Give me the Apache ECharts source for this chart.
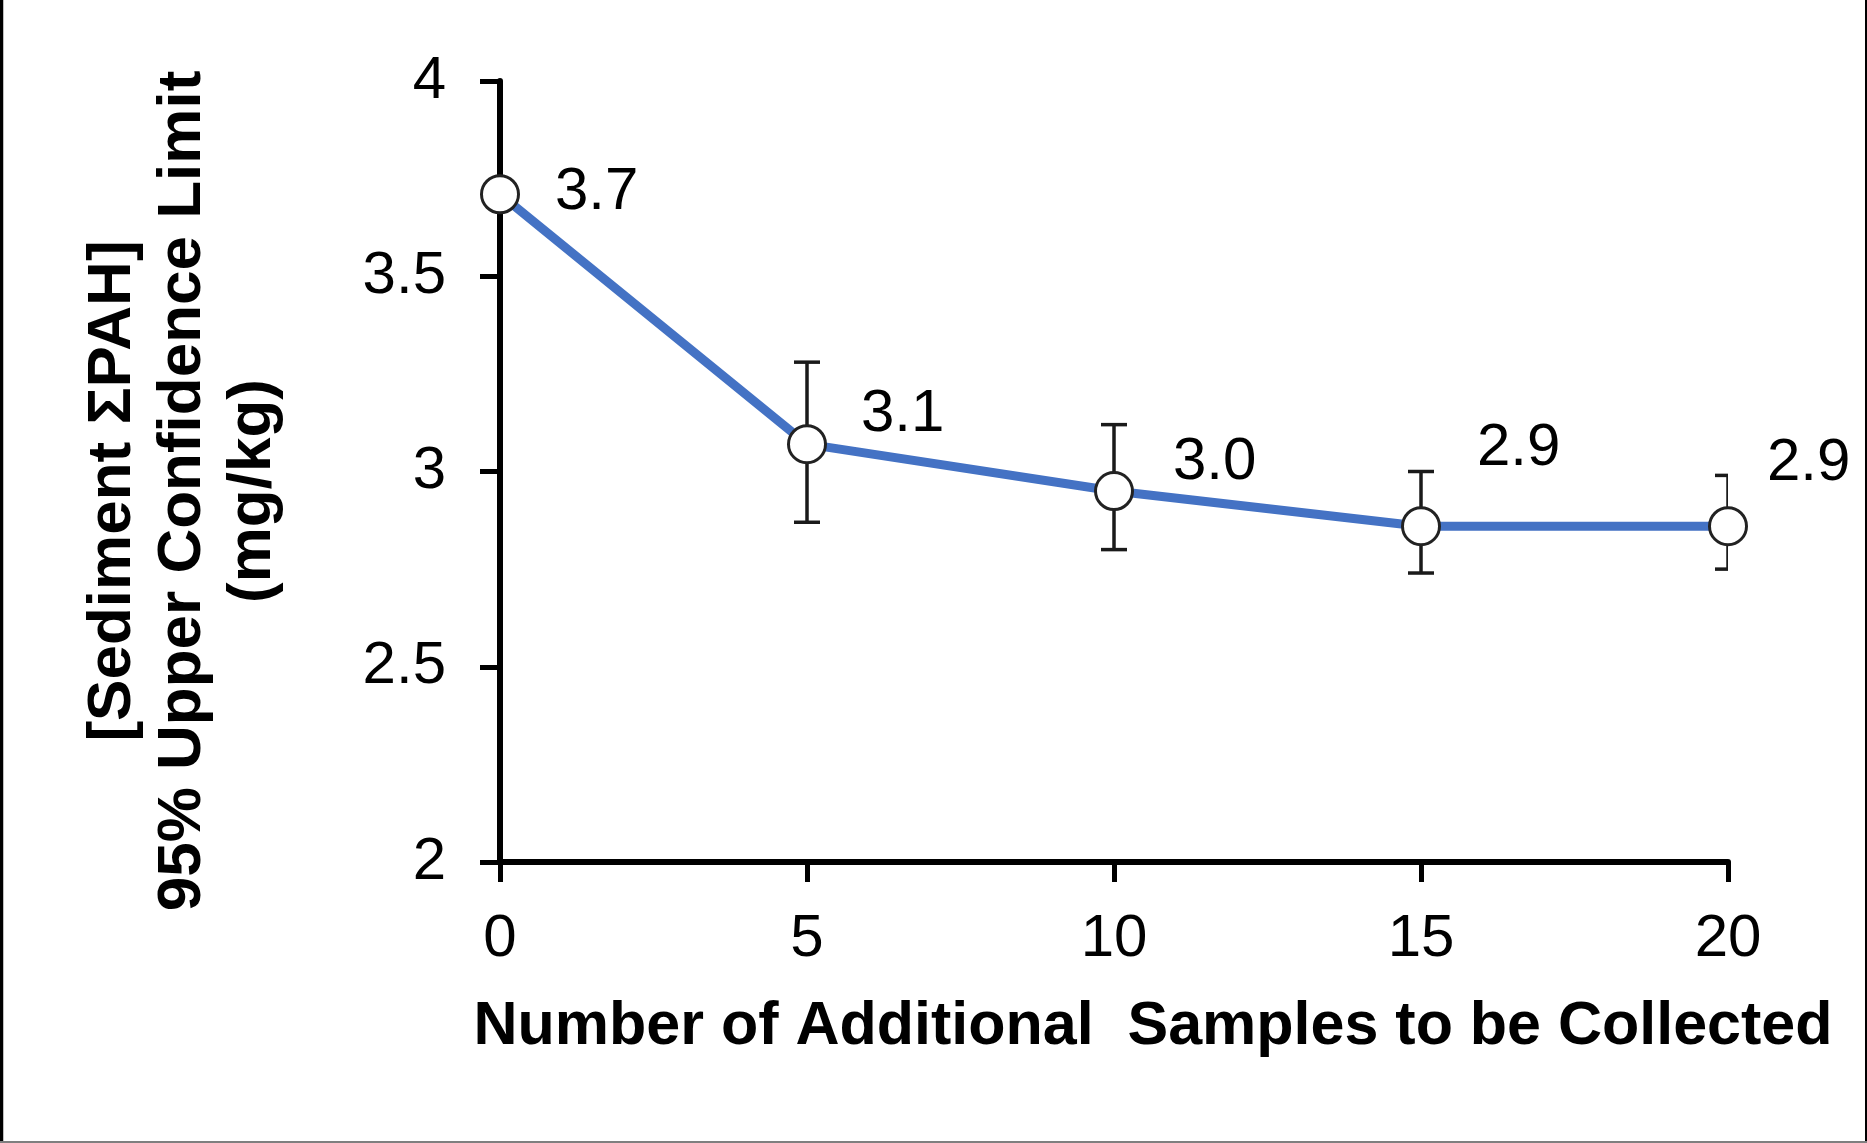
<!DOCTYPE html>
<html><head><meta charset="utf-8">
<script src="https://cdn.jsdelivr.net/npm/echarts@6/dist/echarts.min.js"></script>
<style>html,body{margin:0;padding:0;background:#fff}#c{width:1867px;height:1143px}</style>
</head><body><div id="c"></div>
<script>
// ---- data ----
const samples = [0, 5, 10, 15, 20];
const uclValues = [3.71, 3.07, 2.95, 2.86, 2.86];
const errLow = [null, 2.87, 2.80, 2.74, 2.75];
const errHigh = [null, 3.28, 3.12, 3.00, 2.99];
const xTickLabels = ['0', '5', '10', '15', '20'];
const yTickLabels = ['2', '2.5', '3', '3.5', '4'];
const xTitle = 'Number of Additional  Samples to be Collected';
const yTitleLines = ['[Sediment \u03A3PAH]', '95% Upper Confidence Limit', '(mg/kg)'];

// ---- styling (label offsets per point, in px) ----
const labelOffsets = [[35, -2], [34, -30], [39, -29], [36, -78], [19, -63]];

const FONT = "'Liberation Sans', Arial, sans-serif";
const chart = echarts.init(document.getElementById('c'), null, {renderer: 'canvas'});

const lineData = samples.map((x, i) => ({
  value: [x, uclValues[i]],
  label: {offset: labelOffsets[i]}
}));
const errData = [];
samples.forEach((x, i) => {
  if (errLow[i] != null && errHigh[i] != null) errData.push([x, errLow[i], errHigh[i]]);
});

const axisCommon = {
  axisLine: {show: true, lineStyle: {color: '#000', width: 6}},
  axisTick: {show: true, inside: false, length: 20, lineStyle: {color: '#000', width: 5}},
  splitLine: {show: false},
};

chart.setOption({
  animation: false,
  backgroundColor: '#fff',
  grid: {left: 500, right: 139, top: 81, bottom: 281, containLabel: false},
  xAxis: Object.assign({
    type: 'value', min: 0, max: 20, interval: 5,
    axisLabel: {fontSize: 60, color: '#000', fontFamily: FONT, margin: 47,
      formatter: (v) => xTickLabels[samples.indexOf(v)] ?? String(v)}
  }, axisCommon),
  yAxis: Object.assign({
    type: 'value', min: 2, max: 4, interval: 0.5,
    axisLabel: {fontSize: 60, color: '#000', fontFamily: FONT, margin: 54,
      formatter: (v) => yTickLabels[Math.round((v - 2) / 0.5)] ?? String(v)}
  }, axisCommon),
  series: [
    {
      type: 'custom',
      clip: true,
      z: 2,
      data: errData,
      renderItem: function (params, api) {
        const x = api.value(0), lo = api.value(1), hi = api.value(2);
        const pLo = api.coord([x, lo]);
        const pHi = api.coord([x, hi]);
        const half = 13;
        const style = {stroke: '#1a1a1a', lineWidth: 3.5, fill: null};
        return {
          type: 'group',
          children: [
            {type: 'line', shape: {x1: pLo[0], y1: pLo[1], x2: pHi[0], y2: pHi[1]}, style: style},
            {type: 'line', shape: {x1: pHi[0] - half, y1: pHi[1], x2: pHi[0] + half, y2: pHi[1]}, style: style},
            {type: 'line', shape: {x1: pLo[0] - half, y1: pLo[1], x2: pLo[0] + half, y2: pLo[1]}, style: style}
          ]
        };
      }
    },
    {
      type: 'line',
      z: 3,
      clip: false,
      data: lineData,
      symbol: 'circle',
      symbolSize: 37,
      lineStyle: {color: '#4472C4', width: 9},
      itemStyle: {color: '#fff', borderColor: '#222', borderWidth: 3},
      label: {
        show: true, position: 'right', distance: 0,
        fontSize: 60, fontFamily: FONT, color: '#000',
        formatter: (p) => p.value[1].toFixed(1)
      },
      emphasis: {disabled: true}
    }
  ],
  graphic: [
    {
      type: 'text', x: 1153, y: 1027,
      style: {text: xTitle, font: 'bold 61px ' + FONT, fill: '#000', textAlign: 'center', textVerticalAlign: 'middle'}
    },
    {
      type: 'text', x: 183, y: 491, rotation: Math.PI / 2,
      style: {text: yTitleLines.join('\n'), font: 'bold 62px ' + FONT, fill: '#000',
        textAlign: 'center', textVerticalAlign: 'middle', lineHeight: 70}
    },
    {type: 'line', shape: {x1: 1.5, y1: 0, x2: 1.5, y2: 1143}, style: {stroke: '#000', lineWidth: 3.5}},
    {type: 'line', shape: {x1: 1866, y1: 0, x2: 1866, y2: 1143}, style: {stroke: '#000', lineWidth: 2}},
    {type: 'line', shape: {x1: 0, y1: 1142, x2: 1867, y2: 1142}, style: {stroke: '#7f7f7f', lineWidth: 2}}
  ]
});
</script>
</body></html>
